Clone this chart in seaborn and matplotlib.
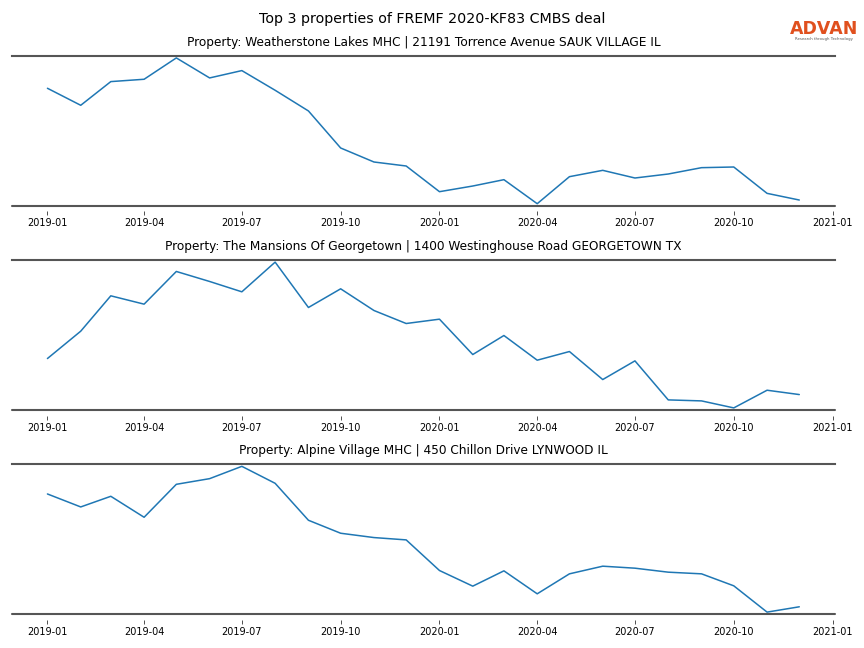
import numpy as np
import pandas as pd
import matplotlib
matplotlib.use('Agg')
import matplotlib.pyplot as plt
import matplotlib.dates as mdates
import seaborn as sns

# monthly data, 2019-01 .. 2020-12 (relative foot traffic, no y scale shown)
months = pd.date_range('2019-01-01', periods=24, freq='MS')

titles = [
    'Property: Weatherstone Lakes MHC | 21191 Torrence Avenue SAUK VILLAGE IL',
    'Property: The Mansions Of Georgetown | 1400 Westinghouse Road GEORGETOWN TX',
    'Property: Alpine Village MHC | 450 Chillon Drive LYNWOOD IL',
]

weatherstone = [350, 299, 370, 377, 441, 381, 403, 344, 282, 171, 129, 117,
                40, 57, 76, 4, 85, 104, 81, 93, 112, 114, 35, 15]
georgetown = [154, 236, 342, 317, 415, 385, 354, 443, 307, 363, 298, 259,
              272, 166, 223, 149, 175, 91, 147, 30, 27, 6, 59, 46]
alpine = [357, 318, 350, 287, 386, 403, 440, 389, 278, 239, 226, 219,
          127, 80, 126, 57, 117, 140, 134, 122, 117, 81, 2, 18]

series = [weatherstone, georgetown, alpine]

sns.set_style('white')
plt.rcParams['text.color'] = 'black'
plt.rcParams['xtick.color'] = 'black'

fig, axes = plt.subplots(3, 1, figsize=(8.64, 6.48), dpi=100)
fig.subplots_adjust(left=0.014, right=0.966, top=0.914, bottom=0.052, hspace=0.36)

for ax, title, vals in zip(axes, titles, series):
    df = pd.DataFrame({'date': months, 'value': vals})
    sns.lineplot(data=df, x='date', y='value', ax=ax, color='#1f77b4', linewidth=1.1)
    ax.margins(x=0.047, y=0.015)
    ax.set_title(title, fontsize=8.7, pad=7, color='black')
    ax.set_xlabel('')
    ax.set_ylabel('')
    ax.set_yticks([])
    ax.xaxis.set_major_locator(mdates.MonthLocator(bymonth=[1, 4, 7, 10]))
    ax.xaxis.set_major_formatter(mdates.DateFormatter('%Y-%m'))
    ax.tick_params(axis='x', labelsize=7, length=3, width=0.6, color='#333333', pad=2,
                   labelcolor='black', bottom=True)
    for side in ['left', 'right', 'bottom']:
        ax.spines[side].set_visible(False)
    ax.spines['bottom'].set_position(('outward', 4))
    ax.spines['top'].set_color('#555555')
    ax.spines['top'].set_linewidth(1.5)
    lo, hi = ax.get_ylim()
    ax.axhline(lo, color='#555555', linewidth=1.5, clip_on=False)
    ax.set_ylim(lo, hi)

fig.suptitle('Top 3 properties of FREMF 2020-KF83 CMBS deal', fontsize=10.3, y=0.982,
             color='black')

# logo
fig.text(0.954, 0.955, 'ADVAN', color='#e0501e', fontsize=12.5, fontweight='semibold',
         ha='center', va='center')
fig.text(0.954, 0.94, 'Research through Technology', color='#555555', fontsize=2.8,
         ha='center', va='center')

plt.savefig('out.png', dpi=100)
